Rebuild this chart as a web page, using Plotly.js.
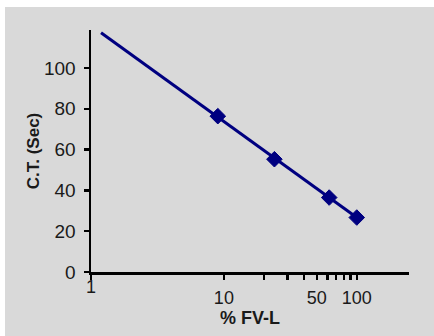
<!DOCTYPE html>
<html>
<head>
<meta charset="utf-8">
<script src="https://cdn.plot.ly/plotly-3.0.1.min.js"></script>
<style>
  html, body { margin: 0; padding: 0; background: #ffffff; width: 434px; height: 336px; overflow: hidden; }
  #chart { position: absolute; left: 5px; top: 7px; width: 429px; height: 329px; }
</style>
</head>
<body>
<div id="chart"></div>
<script>
// Data
const fvlPercent = [9, 24, 62, 100];          // % FV-L (log scale)
const clotTime   = [76.4, 55.3, 36.5, 26.7];  // C.T. (Sec)
const fitLineX   = [1.19, 100];               // drawn calibration line, ends
const fitLineY   = [117.3, 26.7];

// Axis tick definitions
const xTickVals    = [1, 10, 20, 30, 40, 50, 60, 70, 80, 90, 100];
const xUpperLabels = ['1', '', '', '', '', '', '', '', '', '', ''];
const xLowerVals   = [10, 50, 100];
const xLowerLabels = ['10', '50', '100'];
const yTickVals    = [0, 20, 40, 60, 80, 100];

const navy = '#000080';
const fam = '"Liberation Sans", Arial, sans-serif';
const yTickFont  = {family: fam, size: 19, color: '#1a1a1a'};
const xTickFont  = {family: fam, size: 18, color: '#1a1a1a'};
const yTitleFont = {family: fam, size: 17, color: '#1a1a1a'};
const xTitleFont = {family: fam, size: 18, color: '#1a1a1a'};
const xRange = [0, 2.393];

const traces = [
  {
    x: fitLineX, y: fitLineY, type: 'scatter', mode: 'lines',
    line: {color: navy, width: 3}, hoverinfo: 'skip', showlegend: false,
    xaxis: 'x', yaxis: 'y'
  },
  {
    x: fvlPercent, y: clotTime, type: 'scatter', mode: 'markers',
    marker: {symbol: 'diamond', size: 12, color: navy, line: {color: navy, width: 1}},
    showlegend: false, xaxis: 'x', yaxis: 'y'
  },
  {x: [10], y: [0], xaxis: 'x2', yaxis: 'y', mode: 'markers', type: 'scatter',
   marker: {opacity: 0}, hoverinfo: 'skip', showlegend: false}
];

const layout = {
  width: 429, height: 329,
  margin: {l: 86, r: 25, t: 23, b: 64},
  paper_bgcolor: '#d9d9d9',
  plot_bgcolor: '#d9d9d9',
  font: yTickFont,
  showlegend: false,
  xaxis: {
    type: 'log', range: xRange,
    tickmode: 'array', tickvals: xTickVals, ticktext: xUpperLabels,
    ticks: 'outside', ticklen: 5, tickwidth: 2.5, tickcolor: '#000',
    showline: true, linecolor: '#000', linewidth: 2.5,
    showgrid: false, zeroline: false,
    tickfont: xTickFont,
    ticklabelstandoff: -8,
    title: {text: '<b>% FV-L</b>', font: xTitleFont, standoff: 16}
  },
  xaxis2: {
    type: 'log', range: xRange, overlaying: 'x', anchor: 'y', side: 'bottom',
    tickmode: 'array', tickvals: xLowerVals, ticktext: xLowerLabels,
    ticks: '', showline: false, showgrid: false, zeroline: false,
    tickfont: xTickFont, ticklabelstandoff: 13
  },
  yaxis: {
    range: [0, 118.65],
    tickmode: 'array', tickvals: yTickVals,
    ticks: 'outside', ticklen: 5, tickwidth: 2.5, tickcolor: '#000',
    showline: true, linecolor: '#000', linewidth: 2.5,
    showgrid: false, zeroline: false,
    tickfont: yTickFont,
    ticklabelstandoff: 4,
    title: {text: '<b>C.T. (Sec)</b>', font: yTitleFont, standoff: 0}
  }
};

Plotly.newPlot('chart', traces, layout, {staticPlot: true, displayModeBar: false});
</script>
</body>
</html>
